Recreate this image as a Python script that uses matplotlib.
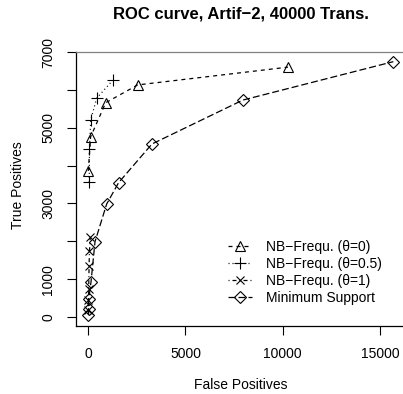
import matplotlib
matplotlib.use("Agg")
import matplotlib.pyplot as plt

plt.rcParams['font.family'] = ['Liberation Sans', 'DejaVu Sans']

# NB-Frequ. theta=0 (triangles)
fp_t0 = [0, 120, 895, 2540, 10270]
tp_t0 = [3860, 4760, 5660, 6130, 6600]
# NB-Frequ. theta=0.5 (plus)
fp_t05 = [50, 60, 125, 430, 1255]
tp_t05 = [3570, 4450, 5200, 5780, 6250]
# NB-Frequ. theta=1 (x)
fp_t1 = [5, 10, 20, 40, 60, 100]
tp_t1 = [180, 450, 750, 1360, 1730, 2100]
# Minimum Support (diamonds)
fp_ms = [10, 15, 20, 140, 345, 945, 1560, 3275, 7950, 15690]
tp_ms = [50, 203, 467, 930, 1990, 2985, 3550, 4570, 5730, 6745]

labels = ['NB\u2212Frequ. (\u03b8=0)', 'NB\u2212Frequ. (\u03b8=0.5)',
          'NB\u2212Frequ. (\u03b8=1)', 'Minimum Support']

W, H = 403, 394
fig = plt.figure(figsize=(W / 100, H / 100), dpi=100)
ax = fig.add_axes([76 / W, (H - 326) / H, (405.7 - 76) / W, (326 - 52) / H])

lw = 0.9
f = 0.72 / lw
ax.plot(fp_t0, tp_t0, color='black', lw=lw, ls=(0, (4 * f, 4 * f)),
        marker='^', ms=6.5, mfc='none', mew=0.8, label=labels[0])
ax.plot(fp_t05, tp_t05, color='black', lw=lw, ls=(0, (1 * f, 3 * f)),
        marker='+', ms=9, mew=0.8, label=labels[1])
ax.plot(fp_t1, tp_t1, color='black', lw=lw, ls=(0, (1 * f, 3 * f, 4 * f, 3 * f)),
        marker='x', ms=6, mew=0.8, label=labels[2])
ax.plot(fp_ms, tp_ms, color='black', lw=lw, ls=(0, (7 * f, 3 * f)),
        marker='D', ms=6.5, mfc='none', mew=0.8, label=labels[3])

ax.set_xlim(-633, 16328)
ax.set_ylim(-238, 7000)
ax.set_xticks([0, 5000, 10000, 15000])
ax.set_yticks(range(0, 8000, 1000))
ax.set_yticklabels(['0', '1000', '', '3000', '', '5000', '', '7000'],
                   rotation=90, va='center')
ax.tick_params(direction='out', length=6.5, width=0.8, labelsize=10, pad=8.5)
for s in ['left', 'bottom']:
    ax.spines[s].set_linewidth(0.9)
ax.spines['top'].set_color('#808080')
ax.spines['top'].set_linewidth(0.9)

ax.set_xlabel('False Positives', fontsize=10)
ax.set_ylabel('True Positives', fontsize=10)
ax.xaxis.set_label_coords((241 - 76) / 329.7, (326 - 385) / 274)
ax.yaxis.set_label_coords((18 - 76) / 329.7, (326 - 185) / 274)
ax.xaxis.label.set_va('center')
ax.yaxis.label.set_va('center')
fig.text(241 / W, 1 - 14 / H, 'ROC curve, Artif\u22122, 40000 Trans.',
         fontsize=12, fontweight='bold', ha='center', va='center')

ax.legend(loc='upper left', bbox_to_anchor=(228 / W, (H - 240) / H),
          bbox_transform=fig.transFigure, frameon=False, fontsize=10,
          handlelength=1.75, handletextpad=0.95, labelspacing=0.22,
          borderpad=0, borderaxespad=0)

fig.savefig('out.png', dpi=100)
